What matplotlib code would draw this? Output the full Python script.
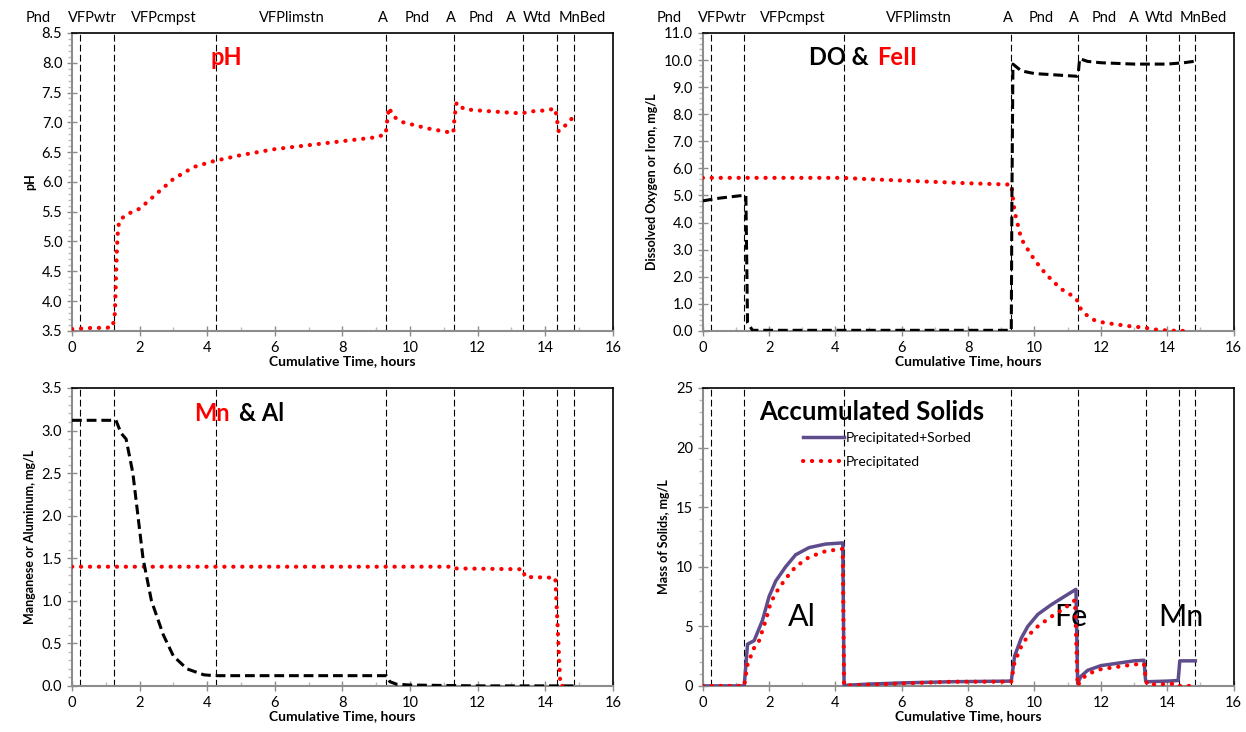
import matplotlib
matplotlib.use("Agg")
import matplotlib.pyplot as plt
from matplotlib.ticker import MultipleLocator
import numpy as np

plt.rcParams['font.family'] = ['Lato', 'DejaVu Sans']

# treatment stage boundaries (hours) and labels above the top panels
stage_bounds = [0.25, 1.25, 4.25, 9.3, 11.3, 13.35, 14.35, 14.85]
stage_names = ['Pnd', 'VFPwtr', 'VFPcmpst', 'VFPlimstn', 'A', 'Pnd', 'A', 'Pnd', 'A', 'Wtd', 'MnBed']
stage_name_x = [-1.0, 0.6, 2.7, 6.5, 9.2, 10.2, 11.2, 12.1, 13.0, 13.75, 15.1]

# pH
ph_t = [0, 0.3, 0.6, 0.9, 1.2, 1.27, 1.3, 1.33, 1.36, 1.4, 1.6, 2.0, 2.5, 3.0, 3.6, 4.2, 5.0, 6.0, 7.5,
        9.0, 9.28, 9.33, 9.38, 9.5, 9.8, 10.5, 11.28, 11.32, 11.38, 11.6, 12.0, 13.0, 13.33, 13.5, 14.0,
        14.3, 14.4, 14.6, 14.85]
ph_v = [3.53, 3.54, 3.55, 3.55, 3.56, 3.8, 4.4, 4.9, 5.2, 5.35, 5.45, 5.55, 5.8, 6.05, 6.25, 6.35, 6.45,
        6.55, 6.65, 6.75, 6.8, 7.05, 7.25, 7.1, 7.0, 6.9, 6.82, 7.1, 7.33, 7.22, 7.2, 7.16, 7.15, 7.18,
        7.2, 7.23, 6.85, 6.95, 7.1]

# dissolved oxygen and ferrous iron
do_t = [0, 0.5, 1.2, 1.3, 1.35, 1.5, 4.0, 9.3, 9.32, 9.35, 9.6, 10.0, 11.28, 11.32, 11.36, 11.6, 12.0,
        13.0, 14.0, 14.5, 14.8]
do_v = [4.8, 4.9, 5.0, 5.0, 0.3, 0.02, 0.02, 0.02, 5.0, 9.85, 9.6, 9.5, 9.4, 9.5, 10.05, 9.95, 9.9,
        9.85, 9.85, 9.9, 9.95]
fe_t = [0, 1.0, 2.0, 3.0, 4.2, 5.0, 6.0, 7.0, 8.0, 9.3, 9.4, 9.6, 9.9, 10.2, 10.5, 10.8, 11.2, 11.3,
        11.4, 11.6, 11.8, 12.1, 12.4, 12.7, 13.0, 13.3, 13.5, 13.8, 14.1, 14.4, 14.6]
fe_v = [5.65, 5.65, 5.65, 5.65, 5.65, 5.6, 5.55, 5.5, 5.45, 5.4, 4.4, 3.4, 2.8, 2.3, 1.9, 1.55, 1.25,
        1.1, 0.8, 0.55, 0.4, 0.3, 0.25, 0.2, 0.15, 0.13, 0.07, 0.03, 0.01, 0.0, 0.0]

# aluminum and manganese
al_t = [0, 1.3, 1.45, 1.6, 1.8, 1.95, 2.1, 2.35, 2.7, 3.0, 3.4, 3.9, 4.2, 9.3, 9.4, 9.6, 10.0, 12.0, 14.85]
al_v = [3.12, 3.12, 2.97, 2.9, 2.5, 2.0, 1.5, 1.0, 0.6, 0.35, 0.2, 0.13, 0.12, 0.12, 0.05, 0.02, 0.01,
        0.0, 0.0]
mn_t = [0, 11.3, 11.35, 13.35, 13.4, 14.3, 14.38, 14.45, 14.7]
mn_v = [1.4, 1.4, 1.38, 1.37, 1.28, 1.27, 0.6, 0.0, 0.0]

# accumulated solids
sorb_t = [0, 1.25, 1.35, 1.55, 1.8, 2.0, 2.2, 2.5, 2.8, 3.2, 3.7, 4.22, 4.26, 4.3, 5.0, 6.0, 7.5, 9.25,
          9.3, 9.4, 9.6, 9.8, 10.1, 10.5, 10.9, 11.25, 11.3, 11.4, 11.6, 12.0, 12.5, 13.0, 13.3, 13.35,
          13.4, 14.0, 14.33, 14.38, 14.85]
sorb_v = [0, 0, 3.5, 3.8, 5.5, 7.5, 8.8, 10.0, 11.0, 11.6, 11.9, 12.0, 0.05, 0.05, 0.15, 0.25, 0.35,
          0.4, 0.4, 2.5, 4.0, 5.0, 6.0, 6.8, 7.5, 8.1, 0.2, 0.8, 1.3, 1.7, 1.9, 2.1, 2.15, 0.4,
          0.35, 0.4, 0.45, 2.1, 2.1]
prec_t = [0, 1.25, 1.35, 1.55, 1.7, 1.9, 2.05, 2.25, 2.5, 2.8, 3.2, 3.7, 4.22, 4.26, 4.5, 5.5, 6.5, 7.5,
          9.25, 9.3, 9.4, 9.6, 9.8, 10.1, 10.5, 10.9, 11.22, 11.3, 11.4, 11.6, 12.0, 12.5, 13.0, 13.3,
          13.36, 13.4, 14.0, 14.3, 14.38, 14.85]
prec_v = [0, 0, 1.8, 3.2, 3.8, 5.5, 7.0, 8.0, 9.0, 10.0, 10.8, 11.3, 11.5, 0.05, 0.05, 0.15, 0.25,
          0.35, 0.35, 0.35, 2.0, 3.3, 4.2, 5.0, 5.8, 6.5, 7.2, 0.0, 0.5, 1.0, 1.4, 1.6, 1.8, 1.85,
          0.5, 0.1, 0.15, 0.2, 0.0, 0.0]

red = '#FF0000'
purple = '#5F4C8C'
dot = (0, (0.05, 2.1))
dash = (0, (3.2, 1.6))


def style_axes(ax, ymax, ymin, major, minor, fmt):
    ax.set_xlim(0, 16)
    ax.set_ylim(ymin, ymax)
    ax.xaxis.set_major_locator(MultipleLocator(2))
    ax.xaxis.set_minor_locator(MultipleLocator(1))
    ax.yaxis.set_major_locator(MultipleLocator(major))
    ax.yaxis.set_minor_locator(MultipleLocator(minor))
    ax.yaxis.set_major_formatter(fmt)
    for s in ['left', 'bottom']:
        ax.spines[s].set_color('#8C8C8C')
        ax.spines[s].set_linewidth(1.5)
    for s in ['top', 'right']:
        ax.spines[s].set_color('black')
        ax.spines[s].set_linewidth(1.2)
    ax.tick_params(which='major', direction='inout', length=7, width=1, color='#8C8C8C', labelsize=10.5)
    ax.tick_params(which='minor', direction='out', length=3, width=1, color='#BBBBBB')
    ax.tick_params(axis='x', which='minor', direction='in', length=3)
    ax.set_xlabel('Cumulative Time, hours', fontsize=10, fontweight='bold', labelpad=0)
    for b in stage_bounds:
        ax.axvline(b, color='black', lw=0.8, ls=(0, (6, 3)), zorder=1)


fig = plt.figure(figsize=(12.46, 7.32), dpi=100)
ax1 = fig.add_axes([0.0578, 0.548, 0.434, 0.407])
ax2 = fig.add_axes([0.564, 0.548, 0.426, 0.407])
ax3 = fig.add_axes([0.0578, 0.063, 0.434, 0.407])
ax4 = fig.add_axes([0.564, 0.063, 0.426, 0.407])

# pH panel
style_axes(ax1, 8.5, 3.5, 0.5, 0.1, '{x:.1f}')
ax1.plot(ph_t, ph_v, color=red, lw=3, ls=dot, dash_capstyle='round', zorder=3)
ax1.set_ylabel('pH', fontsize=9, fontweight='bold')
ax1.text(4.1, 8.08, 'pH', color=red, fontsize=17, fontweight='bold', va='center')

# DO & FeII panel
style_axes(ax2, 11.0, 0.0, 1.0, 0.2, '{x:.1f}')
ax2.plot(fe_t, fe_v, color=red, lw=3, ls=dot, dash_capstyle='round', zorder=3)
ax2.plot(do_t, do_v, color='black', lw=2.2, ls=dash, zorder=4)
ax2.set_ylabel('Dissolved Oxygen or Iron, mg/L', fontsize=9, fontweight='bold')
ax2.text(3.2, 10.1, 'DO &', color='black', fontsize=17, fontweight='bold', va='center')
ax2.text(5.25, 10.1, 'FeII', color=red, fontsize=17, fontweight='bold', va='center')

for ax in (ax1, ax2):
    for name, x in zip(stage_names, stage_name_x):
        ax.text(x, 1.025, name, transform=ax.get_xaxis_transform(), ha='center', va='bottom',
                fontsize=10.5, clip_on=False)

# Mn & Al panel
style_axes(ax3, 3.5, 0.0, 0.5, 0.1, '{x:.1f}')
ax3.plot(mn_t, mn_v, color=red, lw=3, ls=dot, dash_capstyle='round', zorder=3)
ax3.plot(al_t, al_v, color='black', lw=2.2, ls=dash, zorder=4)
ax3.set_ylabel('Manganese or Aluminum, mg/L', fontsize=9, fontweight='bold')
ax3.text(3.6, 3.2, 'Mn', color=red, fontsize=17, fontweight='bold', va='center')
ax3.text(4.95, 3.2, '& Al', color='black', fontsize=17, fontweight='bold', va='center')

# Accumulated solids panel
style_axes(ax4, 25, 0, 5, 1, '{x:.0f}')
ax4.plot(sorb_t, sorb_v, color=purple, lw=2.5, label='Precipitated+Sorbed', zorder=3)
ax4.plot(prec_t, prec_v, color=red, lw=3, ls=dot, dash_capstyle='round', label='Precipitated', zorder=4)
ax4.set_ylabel('Mass of Solids, mg/L', fontsize=9, fontweight='bold')
ax4.text(1.7, 23, 'Accumulated Solids', color='black', fontsize=18.5, fontweight='bold', va='center')
ax4.legend(loc='upper left', bbox_to_anchor=(0.165, 0.893), frameon=False, fontsize=10,
           handlelength=3.0, handletextpad=0.1, labelspacing=0.85)
ax4.text(3.0, 5.8, 'Al', fontsize=22, ha='center', va='center')
ax4.text(11.1, 5.8, 'Fe', fontsize=22, ha='center', va='center')
ax4.text(14.4, 5.8, 'Mn', fontsize=22, ha='center', va='center')

fig.savefig('out.png', dpi=100)
